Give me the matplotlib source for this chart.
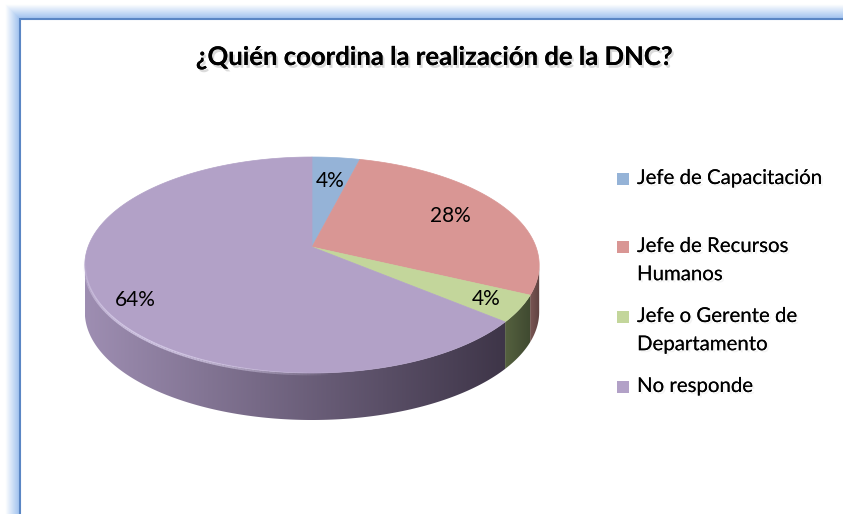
import numpy as np
import matplotlib
matplotlib.use("Agg")
import matplotlib.pyplot as plt
from matplotlib.patches import Polygon, Rectangle
from matplotlib.colors import LinearSegmentedColormap, to_rgb
from matplotlib.collections import LineCollection
import matplotlib.patheffects as pe

# data
title = "¿Quién coordina la realización de la DNC?"
categories = ["Jefe de Capacitación", "Jefe de Recursos\nHumanos",
              "Jefe o Gerente de\nDepartamento", "No responde"]
values = [4, 28, 4, 64]
top_colors = ["#95B3D7", "#D99694", "#C3D69B", "#B2A1C7"]
side_colors = [("#6d86a3", "#5a7190"), ("#7a5553", "#5e4240"),
               ("#55613f", "#3f4930"), ("#9e8eb2", "#3e3548")]

plt.rcParams['font.family'] = ['Lato', 'DejaVu Sans']

W, H = 843, 514
fig = plt.figure(figsize=(W / 100, H / 100), dpi=100)
ax = fig.add_axes([0, 0, 1, 1])
ax.set_xlim(0, W)
ax.set_ylim(H, 0)
ax.axis("off")

# frame with soft blue glow
glow = np.linspace(0, 1, 15)
for i, g in enumerate(glow):
    c = np.array(to_rgb("#9dc0ee")) * (1 - g) + g
    ax.plot([19 - i, 19 - i, W + 5], [H + 5, 18 - i, 18 - i], color=c, lw=1.2,
            solid_joinstyle="miter", zorder=1)
ax.add_patch(Rectangle((19.5, 18.5), W, H, facecolor="white", edgecolor="#5a86c4",
                       lw=1.5, zorder=2))

# 3d pie geometry (perspective ellipse)
cx, cy = 312, 247
A, C, k = 224, 105, 0.1667
depth = 47


def proj(theta, r=1.0, drop=0.0):
    X = r * np.sin(theta)
    Z = r * np.cos(theta)
    w = 1 + k * Z
    return cx + A * X / w, cy - C * Z / w + drop


fracs = np.array(values) / sum(values)
edges = np.concatenate([[0], np.cumsum(fracs)]) * 2 * np.pi
ts = np.arccos(-k)
vis_lo, vis_hi = ts, 2 * np.pi - ts

# sides
for i in range(len(values)):
    t1, t2 = max(edges[i], vis_lo), min(edges[i + 1], vis_hi)
    if t2 <= t1:
        continue
    th = np.linspace(t1, t2, 200)
    xt, yt = proj(th)
    xb, yb = proj(th[::-1], drop=depth)
    poly = Polygon(np.column_stack([np.r_[xt, xb], np.r_[yt, yb]]), closed=True,
                   facecolor="none", edgecolor="none", zorder=3)
    ax.add_patch(poly)
    cmap = LinearSegmentedColormap.from_list("s%d" % i, list(side_colors[i]))
    x0, x1 = min(xt.min(), xb.min()), max(xt.max(), xb.max())
    grad = np.linspace(0, 1, 256)[None, :]
    im = ax.imshow(grad, cmap=cmap, extent=[x0, x1, max(yb.max(), yt.max()), min(yt.min(), yb.min())],
                   aspect="auto", zorder=3, interpolation="bilinear")
    im.set_clip_path(poly)

# top faces
for i in range(len(values)):
    th = np.linspace(edges[i], edges[i + 1], 200)
    xs, ys = proj(th)
    ax.add_patch(Polygon(np.column_stack([np.r_[cx, xs], np.r_[cy, ys]]), closed=True,
                         facecolor=top_colors[i], edgecolor=top_colors[i], lw=0.5, zorder=4))

# soft rim highlight on the front edge
th = np.linspace(np.deg2rad(175), np.deg2rad(265), 120)
hx, hy = proj(th)
segs = np.stack([np.column_stack([hx[:-1], hy[:-1] + 1]), np.column_stack([hx[1:], hy[1:] + 1])], axis=1)
fade = np.sin(np.linspace(0, np.pi, len(segs)))
lc = LineCollection(segs, colors=[(0.86, 0.82, 0.93, 0.8 * f) for f in fade], lw=2, zorder=5)
ax.add_collection(lc)

# percentage labels
label_r = [0.73, 0.72, 0.85, 0.82]
label_dy = [2, 0, 0, 14]
for i, v in enumerate(values):
    mid = (edges[i] + edges[i + 1]) / 2
    lx, ly = proj(mid, r=label_r[i])
    ax.text(lx, ly + label_dy[i], "%d%%" % v, fontsize=15, ha="center", va="center",
            color="black", zorder=6)

# title
ax.text(435, 57, title, fontsize=18.5, fontweight="bold", ha="center", va="center",
        path_effects=[pe.withSimplePatchShadow(offset=(1.5, -2), shadow_rgbFace="#999999",
                                              alpha=0.35), pe.Normal()], zorder=6)

# legend
leg_y = [180, 248, 318, 388]
shadow = [pe.withSimplePatchShadow(offset=(1.5, -1.5), shadow_rgbFace="#bbbbbb", alpha=0.15), pe.Normal()]
for i, lab in enumerate(categories):
    ax.add_patch(Rectangle((617, leg_y[i] - 7), 12, 12, facecolor=top_colors[i],
                           edgecolor="none", zorder=6))
    ax.text(637, leg_y[i] - 10, lab, fontsize=14.7, ha="left", va="top",
            linespacing=1.8, zorder=6, path_effects=shadow)

fig.savefig("out.png", dpi=100)
